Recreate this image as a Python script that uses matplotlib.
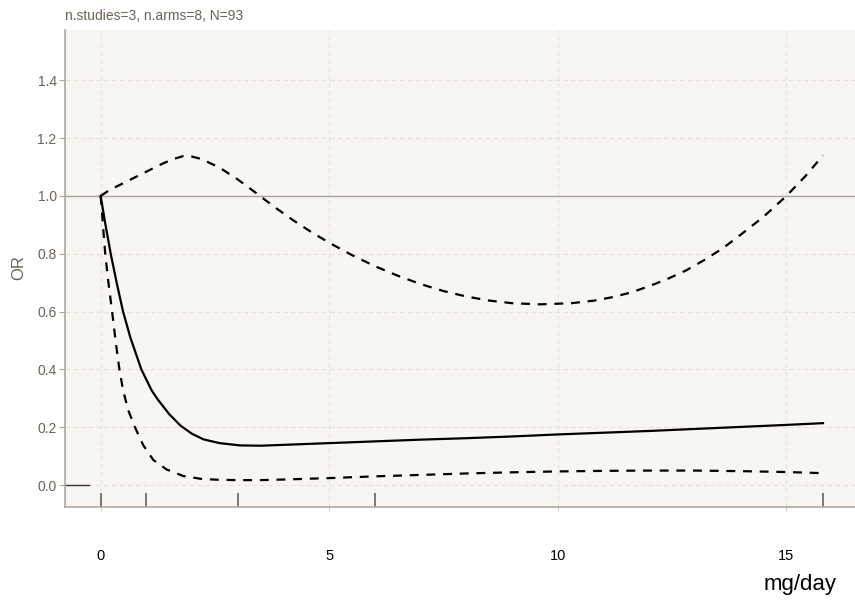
import matplotlib
matplotlib.use("Agg")
from matplotlib import pyplot as plt

# pooled dose-response curve (OR) with lower/upper confidence bounds
dose = [0, 0.1, 0.22, 0.35, 0.49, 0.65, 0.89, 1.11, 1.23, 1.5, 1.75, 2.0, 2.25,
        2.6, 3.05, 3.5, 4, 5, 6, 7, 8, 9, 10, 11, 12, 13, 14, 15, 15.8]
or_fit = [1.0, 0.905, 0.8, 0.7, 0.6, 0.51, 0.4, 0.329, 0.3, 0.245, 0.205,
          0.177, 0.158, 0.145, 0.137, 0.136, 0.139, 0.145, 0.151, 0.157, 0.162, 0.168,
          0.175, 0.181, 0.187, 0.194, 0.201, 0.208, 0.214]

dose_lo = [0, 0.05, 0.1, 0.17, 0.25, 0.33, 0.41, 0.49, 0.6, 0.75, 0.93, 1.15, 1.44,
           1.81, 2.21, 2.6, 3.0, 3.5, 4, 5, 6, 7, 8, 9, 10, 11, 12, 13, 14, 15, 15.8]
or_lo = [1.0, 0.9, 0.8, 0.7, 0.6, 0.495, 0.4, 0.329, 0.26, 0.2, 0.138, 0.087, 0.054,
         0.031, 0.021, 0.018, 0.017, 0.017, 0.019, 0.024, 0.03, 0.035, 0.04, 0.044,
         0.047, 0.049, 0.05, 0.05, 0.048, 0.045, 0.041]

dose_hi = [0, 0.2, 0.57, 1.0, 1.37, 1.6, 1.81, 2.0, 2.2, 2.6, 3.0, 3.4, 3.8, 4.2, 4.6,
           5.0, 5.5, 6.0, 6.5, 7.0, 7.5, 8.0, 8.5, 9.0, 9.6, 10.3, 10.8, 11.2, 11.6,
           12.0, 12.4, 12.8, 13.2, 13.6, 14.0, 14.5, 15.0, 15.4, 15.8]
or_hi = [1.0, 1.021, 1.05, 1.084, 1.113, 1.128, 1.138, 1.136, 1.128, 1.098, 1.057,
         1.01, 0.962, 0.917, 0.876, 0.838, 0.795, 0.757, 0.724, 0.695, 0.671, 0.652,
         0.638, 0.629, 0.625, 0.629, 0.638, 0.65, 0.666, 0.688, 0.713, 0.742, 0.778,
         0.818, 0.866, 0.928, 1.0, 1.066, 1.14]

# doses observed in the study arms
rug_doses = [0, 1, 3, 6, 15.8]

x_ticks = [0, 5, 10, 15]
y_ticks = [0.0, 0.2, 0.4, 0.6, 0.8, 1.0, 1.2, 1.4]

plt.rcParams['font.family'] = ['Liberation Sans', 'DejaVu Sans']

spine_col = '#b5a898'
text_col = '#6b6358'
grid_col = '#e9e1d3'

fig = plt.figure(figsize=(8.55, 6), dpi=100)
ax = fig.add_axes([65 / 855, 93 / 600, 790 / 855, 477 / 600])
ax.set_facecolor('#f8f6f2')

ax.set_xlim(-0.78, 16.5)
ax.set_ylim(-0.076, 1.574)

ax.grid(True, color=grid_col, linestyle=(0, (4, 3)), linewidth=0.8)
ax.set_axisbelow(True)

# reference line at OR = 1
ax.axhline(1.0, color='#aaa49b', linewidth=1.0, zorder=1)
ax.plot([-0.78, -0.26], [0, 0], color='#333333', linewidth=1.0)

ax.plot(dose, or_fit, color='black', linewidth=1.6)
ax.plot(dose_lo, or_lo, color='black', linewidth=1.6, dashes=(4, 3.5))
ax.plot(dose_hi, or_hi, color='black', linewidth=1.6, dashes=(4, 3.5))

# rug of study doses along the x axis
ax.vlines(rug_doses, 0, 0.03, transform=ax.get_xaxis_transform(),
          color='#555555', linewidth=1.1)

for side in ['top', 'right']:
    ax.spines[side].set_visible(False)
for side in ['left', 'bottom']:
    ax.spines[side].set_color(spine_col)
    ax.spines[side].set_linewidth(1.2)

ax.set_xticks(x_ticks)
ax.set_xticklabels([str(t) for t in x_ticks])
ax.set_yticks(y_ticks)
ax.set_yticklabels(['%.1f' % t for t in y_ticks])
ax.tick_params(axis='x', length=3, color='#d8ccbc', pad=27, labelsize=10.5,
               labelcolor='black')
ax.tick_params(axis='y', length=4, color=spine_col, pad=2, labelsize=10,
               labelcolor=text_col)

fig.text(65 / 855, 1 - 19.5 / 600, 'n.studies=3, n.arms=8, N=93', color=text_col,
         fontsize=10, ha='left', va='baseline')
fig.text(19 / 855, 1 - 268 / 600, 'OR', color=text_col, fontsize=12,
         rotation=90, ha='center', va='center')
fig.text(837 / 855, 1 - 590 / 600, 'mg/day', color='black', fontsize=16,
         ha='right', va='baseline')

fig.savefig('out.png', dpi=100)
